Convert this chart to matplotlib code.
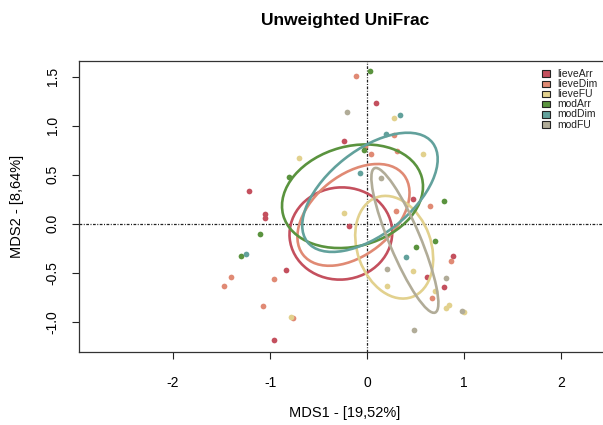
import matplotlib
matplotlib.use('agg')
import matplotlib.pyplot as plt
from matplotlib.patches import Ellipse, Rectangle
from matplotlib import rcParams
rcParams['font.family'] = ['Liberation Sans', 'DejaVu Sans']

# PCoA scores per group (MDS1, MDS2)
groups = ['lieveArr', 'lieveDim', 'lieveFU', 'modArr', 'modDim', 'modFU']
colors = ['#c4505e', '#e08a74', '#e2d18e', '#5a933e', '#62a19c', '#b1ac98']

lieveArr_x = [-1.22, -1.05, -1.05, -0.84, -0.96, 0.09, -0.24, 0.47, -0.19, 0.89, 0.62, 0.79]
lieveArr_y = [0.33, 0.10, 0.06, -0.47, -1.19, 1.23, 0.84, 0.25, -0.02, -0.33, -0.54, -0.65]
lieveDim_x = [-1.40, -1.47, -0.96, -1.07, -0.11, 0.28, 0.04, 0.31, 0.65, 0.30, 0.87, 0.67, -0.02, -0.76]
lieveDim_y = [-0.54, -0.64, -0.56, -0.84, 1.51, 0.91, 0.71, 0.74, 0.18, 0.13, -0.38, -0.76, 0.79, -0.96]
lieveFU_x = [-0.70, 0.28, 0.58, -0.24, 0.47, 0.70, 0.21, 0.81, 0.85, 1.00, -0.78]
lieveFU_y = [0.67, 1.08, 0.71, 0.11, -0.48, -0.69, -0.64, -0.86, -0.83, -0.90, -0.95]
modArr_x = [0.03, -0.80, -0.03, 0.79, 0.70, 0.50, -1.10, -1.30]
modArr_y = [1.56, 0.48, 0.75, 0.23, -0.18, -0.24, -0.11, -0.33]
modDim_x = [-1.25, 0.34, 0.20, -0.07, 0.40]
modDim_y = [-0.31, 1.11, 0.92, 0.52, -0.34]
modFU_x = [-0.21, 0.14, 0.21, 0.81, 0.98, 0.48]
modFU_y = [1.14, 0.47, -0.46, -0.55, -0.89, -1.08]

xs = [lieveArr_x, lieveDim_x, lieveFU_x, modArr_x, modDim_x, modFU_x]
ys = [lieveArr_y, lieveDim_y, lieveFU_y, modArr_y, modDim_y, modFU_y]

# group ellipses: centre x, centre y, semi-axes a/b, angle in degrees
ell_cx = [-0.27, -0.14, 0.28, -0.15, 0.03, 0.39]
ell_cy = [-0.10, 0.09, -0.24, 0.28, 0.32, -0.17]
ell_a = [0.53, 0.66, 0.54, 0.74, 0.82, 0.80]
ell_b = [0.47, 0.41, 0.38, 0.51, 0.43, 0.16]
ell_ang = [5, 38, 110, 15, 38, 113]

fig = plt.figure(figsize=(6.03, 4.25), dpi=100)
ax = fig.add_axes([79/603, 73/425, 531/603, 291/425])

ax.axhline(0, color='#222222', lw=0.9, ls=(0, (2.2, 1.2, 0.8, 1.2)), zorder=1)
ax.axvline(0, color='#222222', lw=0.9, ls=(0, (2.2, 1.2, 0.8, 1.2)), zorder=1)

for x, y, c in zip(xs, ys, colors):
    ax.scatter(x, y, s=17, color=c, linewidths=0, zorder=2)

for cx, cy, a, b, ang, c in zip(ell_cx, ell_cy, ell_a, ell_b, ell_ang, colors):
    ax.add_patch(Ellipse((cx, cy), 2*a, 2*b, angle=ang, fill=False,
                         edgecolor=c, lw=1.9, zorder=3))

ax.set_xlim(-2.97, 2.505)
ax.set_ylim(-1.309, 1.66)
ax.set_xticks([-2, -1, 0, 1, 2])
ax.set_xticklabels(['-2', '-1', '0', '1', '2'])
ax.set_yticks([-1.0, -0.5, 0.0, 0.5, 1.0, 1.5])
ax.set_yticklabels(['-1.0', '-0.5', '0.0', '0.5', '1.0', '1.5'], rotation=90, va='center')
ax.tick_params(direction='out', length=5, width=0.8, labelsize=10, color='#222222')
ax.tick_params(axis='x', pad=12.5)
ax.tick_params(axis='y', pad=9)
for s in ax.spines.values():
    s.set_linewidth(0.9)
    s.set_color('#333333')

# legend drawn as small boxes in the top right corner
for i, (g, c) in enumerate(zip(groups, colors)):
    yy = 0.957 - i*0.0351
    ax.add_patch(Rectangle((0.872, yy - 0.011), 0.0151, 0.022, transform=ax.transAxes,
                           facecolor=c, edgecolor='#222222', lw=0.8, zorder=5, clip_on=False))
    ax.text(0.901, yy, g, transform=ax.transAxes, fontsize=7.5, va='center', ha='left',
            color='#222222', zorder=5)

fig.text(345/603, 1 - 21/425, 'Unweighted UniFrac', ha='center', va='center',
         fontsize=12.5, fontweight='bold')
fig.text(345/603, 1 - 413/425, 'MDS1 - [19,52%]', ha='center', va='center', fontsize=10.5)
fig.text(17/603, 1 - 206.5/425, 'MDS2 - [8,64%]', ha='center', va='center',
         fontsize=10.5, rotation=90)

plt.savefig('out.png', dpi=100)
